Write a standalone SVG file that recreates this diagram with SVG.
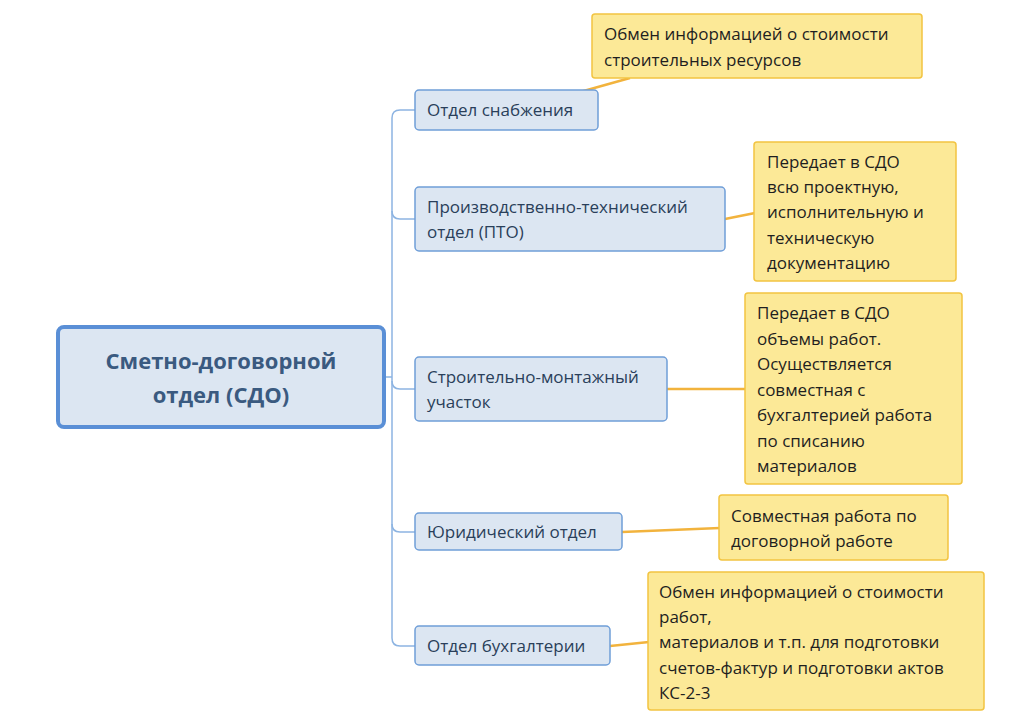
<svg xmlns="http://www.w3.org/2000/svg" width="1024" height="722" viewBox="0 0 1024 722">
<style>
text{font-family:"Open Sans","Noto Sans",sans-serif;font-size:17px;fill:#1f1f1f}
.n rect{fill:#dce6f2;stroke:#6f9ed8;stroke-width:1.5}
.c rect{fill:#fce997;stroke:#f2c441;stroke-width:1.5}
.nt{fill:#2a3f5a}
.conn path{fill:none;stroke:#8db4e2;stroke-width:1.5}
.call path{fill:none;stroke:#f2b33d;stroke-width:2.5}
</style>
<rect width="1024" height="722" fill="#fff"/>
<g id="connectors">
<g class="conn">
<path d="M384,377 H392"/>
<path d="M415,110 H400 Q392,110 392,118 V638 Q392,646 400,646 H415"/>
<path d="M392,211 Q392,219 400,219 H415"/>
<path d="M392,381 Q392,389 400,389 H415"/>
<path d="M392,524 Q392,532 400,532 H415"/>
</g>
<g class="call">
<path d="M580,92 L630,78"/>
<path d="M725,219 L755,213"/>
<path d="M667,389 L746,389"/>
<path d="M622,532 L720,528"/>
<path d="M610,646 L649,642"/>
</g>
</g>
<g id="root"><rect x="58" y="327" width="326" height="100" rx="6" fill="#dce6f2" stroke="#5a8fd6" stroke-width="4"/>
<text x="221" y="369" text-anchor="middle" style="font-size:22px;font-weight:bold;fill:#3a5a80">Сметно-договорной</text>
<text x="221" y="403" text-anchor="middle" style="font-size:22px;font-weight:bold;fill:#3a5a80">отдел (СДО)</text></g>
<g id="n1" class="n"><rect x="415" y="90" width="183" height="40" rx="4"/><text class="nt" x="427" y="116">Отдел снабжения</text></g>
<g id="n2" class="n"><rect x="415" y="187" width="310" height="64" rx="4"/><text class="nt" x="427" y="213">Производственно-технический</text><text class="nt" x="427" y="238">отдел (ПТО)</text></g>
<g id="n3" class="n"><rect x="415" y="357" width="252" height="64" rx="4"/><text class="nt" x="427" y="383">Строительно-монтажный</text><text class="nt" x="427" y="408"> участок</text></g>
<g id="n4" class="n"><rect x="415" y="513" width="207" height="37" rx="4"/><text class="nt" x="427" y="538">Юридический отдел</text></g>
<g id="n5" class="n"><rect x="415" y="626" width="195" height="39" rx="4"/><text class="nt" x="427" y="652">Отдел бухгалтерии</text></g>
<g id="c1" class="c"><rect x="592" y="14" width="330" height="64" rx="3"/><text x="604" y="40">Обмен информацией о стоимости</text><text x="604" y="66"> строительных ресурсов</text></g>
<g id="c2" class="c"><rect x="754" y="142" width="202" height="139" rx="3"/><text x="767" y="168">Передает в СДО</text><text x="767" y="193">всю проектную,</text><text x="767" y="218">исполнительную и</text><text x="767" y="244">техническую</text><text x="767" y="269">документацию</text></g>
<g id="c3" class="c"><rect x="745" y="293" width="217" height="191" rx="3"/><text x="757" y="319">Передает в СДО</text><text x="757" y="345">объемы работ.</text><text x="757" y="370">Осуществляется</text><text x="757" y="396">совместная с</text><text x="757" y="421">бухгалтерией работа</text><text x="757" y="447">по списанию</text><text x="757" y="472">материалов</text></g>
<g id="c4" class="c"><rect x="719" y="495" width="229" height="65" rx="3"/><text x="731" y="522">Совместная работа по</text><text x="731" y="547">договорной работе</text></g>
<g id="c5" class="c"><rect x="648" y="572" width="336" height="138" rx="3"/><text x="659" y="598">Обмен информацией о стоимости</text><text x="659" y="623">работ,</text><text x="659" y="648">материалов и т.п. для подготовки</text><text x="659" y="674">счетов-фактур и подготовки актов</text><text x="659" y="699">КС-2-3</text></g>
</svg>
